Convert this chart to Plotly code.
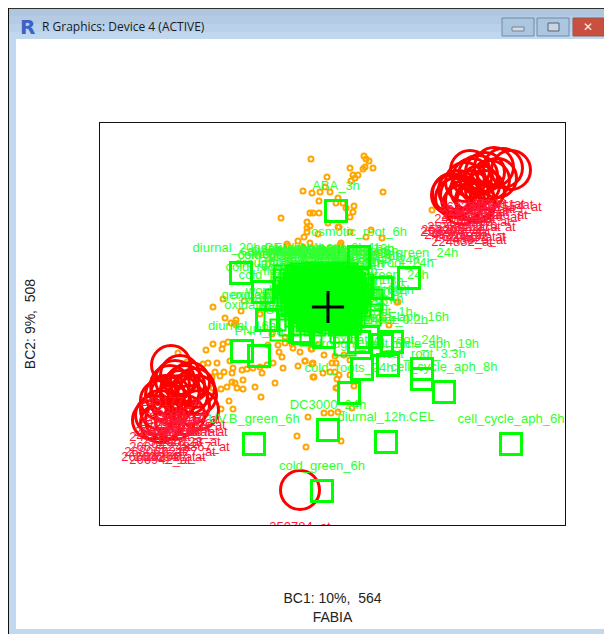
import plotly.graph_objects as go

W, H = 604, 634
# The reference has no tick labels: values are read off the picture on an arbitrary scale
X_RANGE = [100, 565]
Y_RANGE = [525, 123]

# Genes (BC1, BC2 scores) outside the bicluster
gene_x = [311,327,303,312,325,320,330,319,310,313,319,328,338,281,307,310,307,307,304,318,298,287,288,310,303,325,340,340,
          223,244,213,241,225,236,231,236,260,302,364,366,369,365,363,373,350,358,353,355,351,383,338,354,343,346,353,350,
          336,339,350,371,366,382,341,341,376,432,397,389,313,178,187,206,213,222,223,228,235,278,285,293,311,203,208,217,
          230,215,224,212,220,233,232,242,247,253,260,267,273,282,283,262,298,305,313,314,323,275,232,235,237,243,243,213,
          221,227,255,261,229,233,221,308,297,306,324,331,337,338,352,341,312,324,335,305,312,313,332,336,330,335,339,337,
          336,350,350,354,398,272,268,279,285,292,300,318,344]
gene_y = [159,177,191,193,187,192,192,201,213,213,213,223,227,218,222,226,228,232,237,234,241,244,246,243,247,252,245,250,
          299,301,307,311,318,320,323,325,314,328,156,159,161,167,169,168,168,175,175,178,181,192,198,206,203,208,212,217,
          203,227,232,230,237,238,243,247,253,210,302,325,320,353,362,350,344,349,344,342,323,345,343,348,349,364,363,363,
          361,372,372,377,376,368,373,370,369,368,367,365,363,357,368,373,366,361,363,377,373,383,382,383,388,380,389,388,
          389,387,387,397,401,409,409,417,436,447,413,413,388,412,408,441,349,355,356,361,364,377,363,363,372,372,375,379,
          388,360,375,386,302,334,345,352,337,344,352,345,355]

# Red highlighted genes, upper right group and lower left group
red_x = [511,503,494,485,478,472,465,458,452,451,460,470,480,490,475,465,455,470,485,497,462,476,
         171,190,197,185,180,175,170,165,160,170,180,188,160,155,152,165,175,185,199,190,172,160,180,195,
         300]
red_y = [170,168,167,172,175,178,182,190,193,195,195,190,185,180,200,200,198,170,190,178,205,203,
         365,382,395,385,390,380,385,395,400,395,395,395,410,415,420,420,420,415,410,405,405,423,375,388,
         490]
red_names = ["251554_at","252411_at","245928_at","248682_at","250445_at","256321_at","247095_at","253872_at","253209_at","253204_at",
             "254832_at","258126_at","261568_at","249610_at","224832_at","267055_at","248320_at","262381_at","246270_at","259516_at","224832_at","248320_at",
             "245177_at","248367_at","266097_at","261957_at","245243_at","253411_at","248964_at","256227_at","247095_at","254720_at",
             "260678_at","263267_at","266942_at","268067_at","266042_at","260694_at","268067_at","262177_at","248367_at","250123_at","251428_at","266942_at","252867_at","249710_at",
             "250784_at"]

# Samples with their loadings
sample_x = [336,409,359,382,241,263,267,242,259,254,386,328,511,322,349,444,422,422,388,392,382,359,368,362,324,303,300]
sample_y = [211,278,257,288,273,292,320,351,356,444,442,430,444,491,393,392,369,379,365,342,345,342,337,369,337,333,332]
sample_names = ["ABA_3h","UV.B_green_24h","osmotic_root_6h","osmotic_root_24h","diurnal_20h.CEL","cold_root_3h","oxidative_6h",
                "diurnal_16h","PNH_6h","UV.B_green_6h","diurnal_12h.CEL","DC3000_24h","cell_cycle_aph_6h","cold_green_6h",
                "cold_roots_24h","cell_cycle_aph_8h","cell_cycle_aph_19h","heat_root_3.3h","oxidative_root_24h","cell_cycle_aph_16h",
                "salt_shoot_0.2h","diurnal_8h.CEL","wound_root_1h","drought_root_6h","light_green_1h","heat_shoot_3h","cold_shoot_6h"]

# Densely overlapping samples in the centre of the biplot
dense_x = [301,313,323,337,347, 291,303,313,327,337,351,358, 286,298,311,322,335,345,356,
           288,301,312,325,335,349,358, 292,303,317,328,341,351,360, 296,309,320,331,345,354, 304,315,329,339,350,
           285,276,352,363,372,370,290,311,341,351,345,281,275,298,330,296,284,318,345]
dense_y = [274,273,275,273,274, 280,279,281,280,279,281,280, 288,289,287,289,288,287,289,
           296,297,295,296,297,295,296, 306,305,307,306,307,305,306, 316,315,317,316,315,317, 324,325,323,325,324,
           276,300,277,285,300,315,325,335,332,322,345,330,320,276,275,277,280,276,276]
dense_names = ["salt_root_12h","drought_shoot_6h","cold_green_3h","UV.A_green_1h","heat_green_12h","osmotic_green_3h","wound_green_6h",
               "diurnal_4h.CEL","diurnal_0h.CEL","genotoxic_root_3h","oxidative_root_6h","salt_green_6h","drought_root_24h","UV.B_root_3h",
               "cold_root_12h","heat_root_24h","wound_root_12h","DC3000_6h","hrcC_24h","flg22_4h","ABA_1h","IAA_3h","GA3_1h","zeatin_3h","ACC_1h",
               "MJ_3h","BL_3h","sucrose_6h","glucose_3h","osmotic_root_1h","salt_root_1h","cold_green_1h","heat_green_3h","wound_green_1h",
               "UV.A_root_6h","UV.B_root_1h","genotoxic_green_3h","oxidative_green_6h","drought_green_3h","diurnal_2h.CEL","diurnal_6h.CEL",
               "cell_cycle_aph_0h","cell_cycle_aph_2h","cell_cycle_aph_4h","salt_green_24h","cold_root_6h","heat_root_6h","osmotic_green_24h",
               "drought_green_24h","heat_root_0.2h","wound_root_3h","UV.A_green_6h","cold_green_24h","salt_root_3h","cold_root_24h","oxidative_green_1h",
               "genotoxic_root_6h","oxidative_3h","CEA_3h","diurnal_22h.CEL","cold_green_12h","wound_green_12h","osmotic_green_6h"]

centre_x = [328]
centre_y = [307]

x_title = "BC1: 10%,\u00a0 564<br>FABIA"
y_title = "BC2: 9%,\u00a0 508"
window_title = "R Graphics: Device 4 (ACTIVE)"

LABEL_UP = 24
LABEL_DOWN = 38
FONT = "Liberation Sans"
LIME = "#00ff00"
RED = "#ff0000"
ORANGE = "#ffa500"

fig = go.Figure()
fig.add_trace(go.Scatter(x=gene_x, y=gene_y, mode="markers",
                         marker=dict(symbol="circle-open", size=5, color=ORANGE, line=dict(width=2, color=ORANGE))))
fig.add_trace(go.Scatter(x=red_x, y=red_y, mode="markers",
                         marker=dict(symbol="circle-open", size=39, color=RED, line=dict(width=3, color=RED))))
fig.add_trace(go.Scatter(x=red_x, y=[v + LABEL_DOWN for v in red_y], mode="text", text=red_names,
                         textfont=dict(family=FONT, size=13, color="#ff1a3c"), textposition="middle center"))
fig.add_trace(go.Scatter(x=dense_x, y=[v - LABEL_UP for v in dense_y], mode="text", text=dense_names,
                         textfont=dict(family=FONT, size=13, color="#30ff30"), textposition="middle center"))
fig.add_trace(go.Scatter(x=sample_x, y=[v - LABEL_UP for v in sample_y], mode="text", text=sample_names,
                         textfont=dict(family=FONT, size=13, color="#30ff30"), textposition="middle center"))
fig.add_trace(go.Scatter(x=dense_x, y=dense_y, mode="markers",
                         marker=dict(symbol="square-open", size=21, color=LIME, line=dict(width=2, color=LIME))))
fig.add_trace(go.Scatter(x=sample_x, y=sample_y, mode="markers",
                         marker=dict(symbol="square-open", size=21, color=LIME, line=dict(width=3, color=LIME))))
fig.add_trace(go.Scatter(x=dense_x[:44], y=dense_y[:44], mode="markers",
                         marker=dict(symbol="square", size=17, color=LIME)))
fig.add_trace(go.Scatter(x=centre_x, y=centre_y, mode="markers",
                         marker=dict(symbol="cross-thin-open", size=23, color="black", line=dict(width=3, color="black"))))


def rect(x0, y0, x1, y1, fill, line=None):
    return dict(type="rect", xref="paper", yref="paper", layer="below",
                x0=x0 / W, x1=x1 / W, y0=1 - y1 / H, y1=1 - y0 / H,
                fillcolor=fill, line=dict(width=1 if line else 0, color=line or fill))


shapes = [
    rect(9, 9, 604, 16, "#afc6dd"), rect(9, 16, 604, 24, "#b4cbe3"),
    rect(9, 24, 604, 32, "#b9d1ea"), rect(9, 32, 604, 39, "#c1d7ee"),
    rect(9, 39, 16, 634, "#c2d8ee"), rect(9, 629, 604, 634, "#c2d8ee"),
    rect(8, 8, 604, 9, "#303030"), rect(8, 8, 9, 634, "#101010"),
    rect(502, 18, 534, 36, "#adc6e0", "#6d8cab"), rect(512, 27, 524, 31, "#d3dae2", "#70849a"),
    rect(537, 18, 569, 36, "#adc6e0", "#6d8cab"), rect(548, 23, 559, 31, "#cbd5e0", "#506478"),
    rect(573, 18, 604, 36, "#c9503e", "#8d5a50"),
]

annotations = [
    dict(text=window_title, xref="paper", yref="paper", x=40 / W, y=1 - 27 / H, xanchor="left", yanchor="middle",
         showarrow=False, font=dict(family="Open Sans", size=12, color="#1a1a1a")),
    dict(text="<b>R</b>", xref="paper", yref="paper", x=27 / W, y=1 - 27 / H, xanchor="center", yanchor="middle",
         showarrow=False, font=dict(family="DejaVu Sans", size=20, color="#3b62c8")),
    dict(text="<b>✕</b>", xref="paper", yref="paper", x=588 / W, y=1 - 27 / H, xanchor="center", yanchor="middle",
         showarrow=False, font=dict(family="DejaVu Sans", size=12, color="#f4f0ee")),
]

axis_style = dict(showgrid=False, zeroline=False, showticklabels=False, ticks="",
                  showline=True, mirror=True, linewidth=1, linecolor="#111111")
fig.update_layout(
    width=W, height=H, margin=dict(l=0, r=0, t=0, b=0), showlegend=False,
    paper_bgcolor="white", plot_bgcolor="white",
    font=dict(family=FONT, size=11.5, color="#222222"),
    shapes=shapes, annotations=annotations,
    xaxis=dict(domain=[X_RANGE[0] / W, X_RANGE[1] / W], range=X_RANGE,
               title=dict(text=x_title, standoff=68), **axis_style),
    yaxis=dict(domain=[1 - Y_RANGE[0] / H, 1 - Y_RANGE[1] / H], range=Y_RANGE,
               title=dict(text=y_title, standoff=60), **axis_style),
)
fig.write_html("out.html", config=dict(displayModeBar=False),
               post_script="document.body.style.margin='0';document.documentElement.style.overflow='hidden';")
